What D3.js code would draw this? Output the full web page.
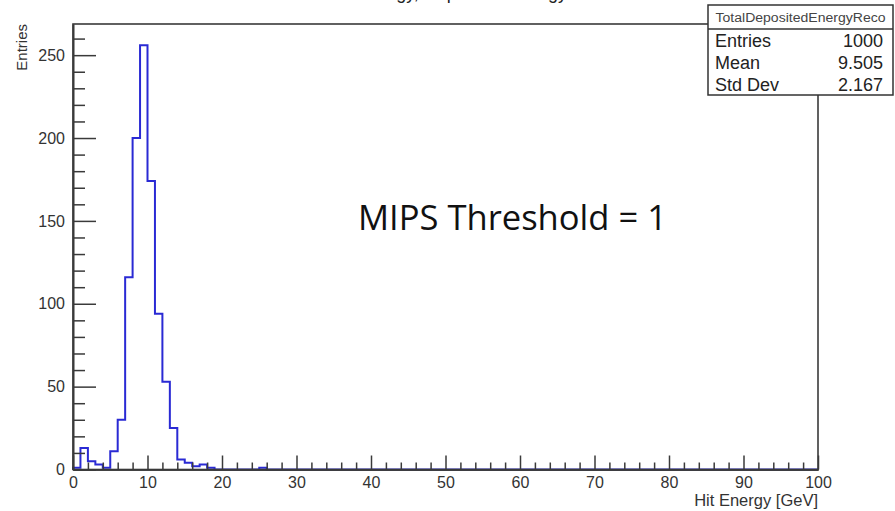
<!DOCTYPE html>
<html>
<head>
<meta charset="utf-8">
<script src="https://cdn.jsdelivr.net/npm/d3@7/dist/d3.min.js"></script>
<style>
  body { margin: 0; background: #fff; }
</style>
</head>
<body>
<svg id="chart" width="895" height="511" font-family="Liberation Sans, Arial, Helvetica, sans-serif"></svg>
<script>
// Histogram: 100 bins of 1 GeV from 0 to 100 GeV
const binEdges = [0, 100];
const counts = [
  1, 13, 5, 3, 1, 11, 30, 116, 200, 256,
  174, 94, 53, 25, 6, 4, 2, 3, 1, 0,
  0, 0, 0, 0, 0, 1, 0, 0, 0, 0,
  0, 0, 0, 0, 0, 0, 0, 0, 0, 0,
  0, 0, 0, 0, 0, 0, 0, 0, 0, 0,
  0, 0, 0, 0, 0, 0, 0, 0, 0, 0,
  0, 0, 0, 0, 0, 0, 0, 0, 0, 0,
  0, 0, 0, 0, 0, 0, 0, 0, 0, 0,
  0, 0, 0, 0, 0, 0, 0, 0, 0, 0,
  0, 0, 0, 0, 0, 0, 0, 0, 0, 0
];
const xMajorTicks = [0, 10, 20, 30, 40, 50, 60, 70, 80, 90, 100];
const yMajorTicks = [0, 50, 100, 150, 200, 250];
const statsTitle = "TotalDepositedEnergyReco";
const statsLabels = ["Entries", "Mean", "Std Dev"];
const statsValues = ["1000", "9.505", "2.167"];
const histTitle = "Total Energy, Deposited Energy";
const xTitle = "Hit Energy [GeV]";
const yTitle = "Entries";
const note = "MIPS Threshold = 1";

const svg = d3.select("#chart");
const frame = { left: 73, right: 818, top: 24, bottom: 469.5 };
const axisColor = "#3a3a3a";

const nBins = counts.length;
const binWidth = (binEdges[1] - binEdges[0]) / nBins;
const yMax = d3.max(counts) * 1.05;

const x = d3.scaleLinear().domain(binEdges).range([frame.left, frame.right]);
const y = d3.scaleLinear().domain([0, yMax]).range([frame.bottom, frame.top]);

// histogram title (sits above the top edge of the canvas)
svg.append("text")
  .attr("x", 441).attr("y", -1)
  .attr("text-anchor", "middle")
  .attr("font-size", 18)
  .attr("fill", "#222")
  .text(histTitle);

// step outline of the histogram
const pts = [[x(binEdges[0]), y(0)]];
counts.forEach((c, i) => {
  const lo = binEdges[0] + i * binWidth;
  pts.push([x(lo), y(c)], [x(lo + binWidth), y(c)]);
});
pts.push([x(binEdges[1]), y(0)]);
svg.append("path")
  .attr("d", d3.line()(pts))
  .attr("fill", "none")
  .attr("stroke", "#2a2ad4")
  .attr("stroke-width", 2)
  .attr("stroke-linejoin", "miter");

// frame
svg.append("rect")
  .attr("x", frame.left).attr("y", frame.top)
  .attr("width", frame.right - frame.left)
  .attr("height", frame.bottom - frame.top)
  .attr("fill", "none")
  .attr("stroke", axisColor)
  .attr("stroke-width", 1.6);

function styleAxis(g) {
  g.attr("font-family", null);
  g.select(".domain").attr("stroke", axisColor).attr("stroke-width", 1.6);
  g.selectAll(".tick line").attr("stroke", axisColor).attr("stroke-width", 1.5);
  g.selectAll(".tick text").attr("fill", "#333").attr("font-size", 16);
}

// x axis: minor ticks every 2, major every 10
const xMinor = d3.range(0, 101, 2).filter(v => !xMajorTicks.includes(v));
svg.append("g").attr("transform", `translate(0,${frame.bottom})`)
  .call(d3.axisBottom(x).tickValues(xMinor).tickSize(-7).tickSizeOuter(0).tickFormat(""))
  .call(styleAxis);
svg.append("g").attr("transform", `translate(0,${frame.bottom})`)
  .call(d3.axisBottom(x).tickValues(xMajorTicks).tickSize(-14).tickSizeOuter(0).tickPadding(7).tickFormat(d3.format("d")))
  .call(styleAxis);

// y axis: minor ticks every 10, major every 50
const yMinor = d3.range(0, yMax, 10).filter(v => !yMajorTicks.includes(v));
svg.append("g").attr("transform", `translate(${frame.left},0)`)
  .call(d3.axisLeft(y).tickValues(yMinor).tickSize(-12).tickSizeOuter(0).tickFormat(""))
  .call(styleAxis);
svg.append("g").attr("transform", `translate(${frame.left},0)`)
  .call(d3.axisLeft(y).tickValues(yMajorTicks).tickSize(-23).tickSizeOuter(0).tickPadding(8).tickFormat(d3.format("d")))
  .call(styleAxis);

// axis titles
svg.append("text")
  .attr("x", frame.right).attr("y", 506)
  .attr("text-anchor", "end")
  .attr("font-size", 16.5).attr("fill", "#333")
  .text(xTitle);
svg.append("text")
  .attr("transform", `translate(27,${frame.top}) rotate(-90)`)
  .attr("text-anchor", "end")
  .attr("font-size", 15).attr("fill", "#333")
  .text(yTitle);

// statistics box
const sb = { x: 708, y: 5, w: 185, h: 90, titleH: 24 };
svg.append("rect")
  .attr("x", sb.x).attr("y", sb.y).attr("width", sb.w).attr("height", sb.h)
  .attr("fill", "#fff").attr("stroke", "#333").attr("stroke-width", 1.5);
svg.append("line")
  .attr("x1", sb.x).attr("x2", sb.x + sb.w)
  .attr("y1", sb.y + sb.titleH).attr("y2", sb.y + sb.titleH)
  .attr("stroke", "#333").attr("stroke-width", 1.5);
svg.append("text")
  .attr("x", sb.x + sb.w / 2).attr("y", sb.y + 17)
  .attr("text-anchor", "middle")
  .attr("font-size", 12).attr("fill", "#444")
  .attr("textLength", 170).attr("lengthAdjust", "spacingAndGlyphs")
  .text(statsTitle);
statsLabels.forEach((lab, i) => {
  const by = 47 + i * 22;
  svg.append("text").attr("x", sb.x + 7).attr("y", by)
    .attr("font-size", 18).attr("fill", "#222").text(lab);
  svg.append("text").attr("x", sb.x + 175).attr("y", by)
    .attr("text-anchor", "end")
    .attr("font-size", 18).attr("fill", "#222").text(statsValues[i]);
});

// annotation, sized to span its box
const noteText = svg.append("text")
  .attr("x", 358).attr("y", 230)
  .attr("font-family", "Open Sans, Noto Sans, sans-serif")
  .attr("font-size", 30).attr("fill", "#111")
  .text(note);
const w = noteText.node().getComputedTextLength();
noteText.attr("font-size", 30 * 309 / w);
</script>
</body>
</html>
